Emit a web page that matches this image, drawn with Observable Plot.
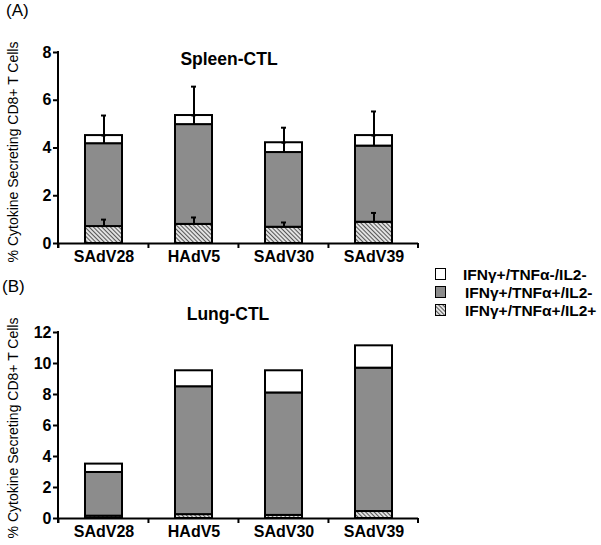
<!DOCTYPE html>
<html><head><meta charset="utf-8">
<script src="https://cdn.jsdelivr.net/npm/d3@7"></script>
<script src="https://cdn.jsdelivr.net/npm/@observablehq/plot@0.6"></script>
<style>
body{margin:0;background:#fff;}
#wrap{position:relative;width:601px;height:545px;overflow:hidden;font-family:"Liberation Sans",Arial,sans-serif;}
#wrap > svg{position:absolute;left:0;}
</style></head><body>
<div id="wrap"></div>
<script>
// ---- data ----
const categories = ["SAdV28", "HAdV5", "SAdV30", "SAdV39"];
// stacking order bottom -> top
const seriesNames = ["IFNγ+/TNFα+/IL2+", "IFNγ+/TNFα+/IL2-", "IFNγ+/TNFα-/IL2-"];
const seriesFills = ["url(#hatch)", "#8c8c8c", "#ffffff"];

// (A) Spleen-CTL segment heights
const spleenTriple = [0.71, 0.80, 0.68, 0.89];
const spleenDouble = [3.47, 4.18, 3.13, 3.19];
const spleenSingle = [0.34, 0.38, 0.41, 0.44];
const spleenTripleErr = [0.29, 0.29, 0.20, 0.39];
const spleenTotalErr = [0.84, 1.21, 0.63, 1.01];

// (B) Lung-CTL segment heights
const lungTriple = [0.15, 0.25, 0.20, 0.45];
const lungDouble = [2.82, 8.25, 7.90, 9.25];
const lungSingle = [0.54, 1.03, 1.43, 1.44];

const spleenTicks = [0, 2, 4, 6, 8];
const lungTicks = [0, 2, 4, 6, 8, 10, 12];

const FONT = '"Liberation Sans", Arial, sans-serif';

function longTable(triple, dbl, single) {
  const rows = [];
  [triple, dbl, single].forEach((arr, s) => {
    arr.forEach((v, i) => rows.push({cat: categories[i], series: seriesNames[s], value: v}));
  });
  return rows;
}

function chart(rows, ticks, errRows, height, top, plotH) {
  const ymax = ticks[ticks.length - 1];
  const marks = [
    Plot.barY(rows, {x: "cat", y: "value", fill: "series", stroke: "black", strokeWidth: 2}),
  ];
  if (errRows) {
    marks.push(
      Plot.ruleX(errRows, {x: "cat", y1: "lo", y2: "hi", stroke: "black", strokeWidth: 2}),
      Plot.tickY(errRows, {x: "cat", y: "hi", inset: 16, stroke: "black", strokeWidth: 2}),
      Plot.tickY(errRows.filter(d => d.mid != null), {x: "cat", y: "mid", inset: 16.5, stroke: "black", strokeWidth: 2})
    );
  }
  marks.push(
    Plot.ruleY([0], {stroke: "black", strokeWidth: 2}),
    Plot.axisY({ticks, tickSize: 5, tickPadding: 2, fontSize: 16, fontWeight: "bold", strokeWidth: 2, label: null}),
    Plot.axisX({tickSize: 0, tickPadding: 7, fontSize: 16, fontWeight: "bold", label: null})
  );
  const p = Plot.plot({
    width: 430, height,
    marginLeft: 58, marginRight: 12, marginTop: 52, marginBottom: height - 52 - plotH,
    style: {fontFamily: FONT, background: "transparent", color: "black"},
    x: {domain: categories, paddingInner: 0.59, paddingOuter: 0.295},
    y: {domain: [0, ymax]},
    color: {type: "ordinal", domain: seriesNames, range: seriesFills},
    marks
  });
  p.style.top = top + "px";
  // y axis line and category boundary ticks, computed from the scales
  const sx = p.scale("x"), sy = p.scale("y");
  const step = sx.step, pad = step * 0.59 / 2;
  const y0 = sy.apply(0), yTop = sy.apply(ymax);
  const g = d3.select(p).append("g").attr("stroke", "black").attr("stroke-width", 2);
  g.append("line").attr("x1", sx.range[0]).attr("x2", sx.range[0]).attr("y1", yTop - 1).attr("y2", y0 + 5);
  const bounds = categories.map(c => sx.apply(c) - pad).concat([sx.range[1]]);
  bounds.forEach(b => g.append("line").attr("x1", b).attr("x2", b).attr("y1", y0).attr("y2", y0 + 5));
  return p;
}

const spleenErr = [];
categories.forEach((c, i) => {
  spleenErr.push({cat: c, lo: spleenTriple[i], hi: spleenTriple[i] + spleenTripleErr[i], mid: null});
  const tot = spleenTriple[i] + spleenDouble[i] + spleenSingle[i];
  spleenErr.push({cat: c, lo: spleenTriple[i] + spleenDouble[i], hi: tot + spleenTotalErr[i], mid: tot});
});

const wrap = document.getElementById("wrap");
wrap.appendChild(chart(longTable(spleenTriple, spleenDouble, spleenSingle), spleenTicks, spleenErr, 270, 0, 191));
wrap.appendChild(chart(longTable(lungTriple, lungDouble, lungSingle), lungTicks, null, 265, 280, 186));

// ---- overlay: pattern defs, panel letters, titles, y labels, legend ----
const ov = d3.select(wrap).append("svg").attr("width", 601).attr("height", 545)
  .style("top", "0px").style("font-family", FONT);
const pat = ov.append("defs").append("pattern").attr("id", "hatch")
  .attr("patternUnits", "userSpaceOnUse").attr("width", 3).attr("height", 3)
  .attr("patternTransform", "rotate(-45)");
pat.append("rect").attr("width", 3).attr("height", 3).attr("fill", "#f2f2f2");
pat.append("line").attr("x1", 1.5).attr("x2", 1.5).attr("y1", 0).attr("y2", 3)
  .attr("stroke", "#555").attr("stroke-width", 1.2);

const panelLabels = [["(A)", 6, 15.5], ["(B)", 2, 291.5]];
panelLabels.forEach(([t, x, y]) => ov.append("text").attr("x", x).attr("y", y)
  .attr("font-size", 17).text(t));

const titles = [["Spleen-CTL", 229, 65], ["Lung-CTL", 228, 320]];
titles.forEach(([t, x, y]) => ov.append("text").attr("x", x).attr("y", y)
  .attr("text-anchor", "middle").attr("font-size", 17.5).attr("font-weight", "bold").text(t));

const yLabel = "% Cytokine Secreting CD8+ T Cells";
[[13, 152], [13, 428]].forEach(([x, y]) => ov.append("text")
  .attr("transform", `translate(${x},${y}) rotate(-90)`)
  .attr("text-anchor", "middle").attr("dominant-baseline", "central")
  .attr("font-size", 14).text(yLabel));

// legend (top -> bottom: single, double, triple)
const legendOrder = [2, 1, 0];
legendOrder.forEach((s, k) => {
  const base = 279.5 + k * 18;
  ov.append("rect").attr("x", 435.5).attr("y", base - 11).attr("width", 10).attr("height", 11)
    .attr("fill", seriesFills[s]).attr("stroke", "black").attr("stroke-width", 1);
  ov.append("text").attr("x", k === 0 ? 463 : 465).attr("y", base)
    .attr("font-size", 15.5).attr("font-weight", "bold").text(seriesNames[s]);
});
</script>
</body></html>
